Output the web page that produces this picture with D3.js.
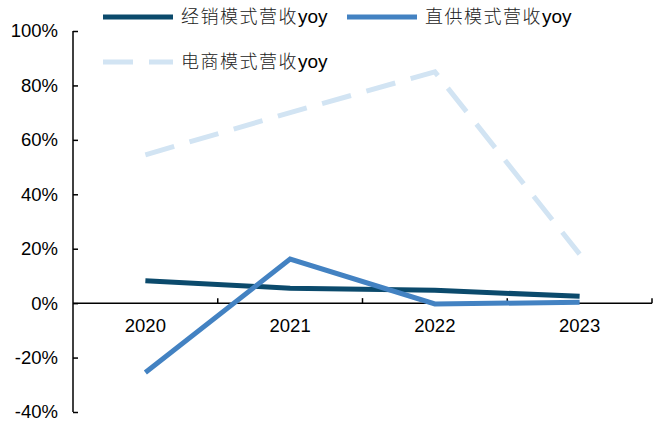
<!DOCTYPE html>
<html>
  <head>
    <meta charset="utf-8" />
    <title>营收yoy</title>
    <style>
      body { margin: 0; background: #fff; }
      text { font-family: Arial, "Liberation Sans", sans-serif; }
    </style>
  </head>
  <body>
  <div id="container"></div>
  <script src="https://cdn.jsdelivr.net/npm/d3@7/dist/d3.min.js"></script>
  <script type="text/javascript">

    var years = ['2020', '2021', '2022', '2023'];
    var yTicks = [-40, -20, 0, 20, 40, 60, 80, 100];
    var seriesNames = ['经销模式营收', '直供模式营收', '电商模式营收'];
    // yoy values in %
    var distribution = [8.2, 5.5, 4.7, 2.5];
    var directSupply = [-25.5, 16.2, -0.3, 0.3];
    var ecommerce = [54.5, 70, 85, 18];

    var width = 654;
    var height = 421;
    var colors = ['#0b4a6c', '#4382c2', '#d2e4f3'];

    var svg = d3.select('#container').append('svg')
      .attr('width', width).attr('height', height);

    var x = d3.scaleBand().domain(years).range([73, 652]);
    var y = d3.scaleLinear().domain([-40, 100]).range([412, 31]);

    // y axis, ticks pointing inward
    var yAxis = svg.append('g')
      .attr('transform', 'translate(' + x.range()[0] + ',0)')
      .call(d3.axisRight(y).tickValues(yTicks).tickSize(5).tickFormat(function(d){ return d + '%'; }));
    yAxis.select('.domain').attr('d', 'M0,' + y(-40) + 'V' + y(100)).attr('stroke', '#000').attr('stroke-width', 1.5);
    yAxis.selectAll('.tick line').attr('stroke', '#000').attr('stroke-width', 1.5);
    yAxis.selectAll('.tick text')
      .attr('x', -15).attr('text-anchor', 'end')
      .attr('font-size', 18.5).attr('fill', '#000');

    // x axis at 0%, ticks at band edges pointing up
    var xg = svg.append('g').attr('transform', 'translate(0,' + y(0) + ')');
    xg.append('line')
      .attr('x1', x.range()[0]).attr('x2', x.range()[1])
      .attr('stroke', '#000').attr('stroke-width', 1.5);
    xg.selectAll('.edge').data(years).enter().append('line')
      .attr('x1', function(d){ return x(d) + x.bandwidth(); })
      .attr('x2', function(d){ return x(d) + x.bandwidth(); })
      .attr('y1', 0).attr('y2', -5)
      .attr('stroke', '#000').attr('stroke-width', 1.5);
    xg.selectAll('.lab').data(years).enter().append('text')
      .attr('x', function(d){ return x(d) + x.bandwidth() / 2; })
      .attr('y', 29)
      .attr('text-anchor', 'middle')
      .attr('font-size', 18.5)
      .text(function(d){ return d; });

    var line = d3.line()
      .x(function(d, i){ return x(years[i]) + x.bandwidth() / 2; })
      .y(function(d){ return y(d); });

    var dashes = [null, null, '30,16'];
    [ecommerce, distribution, directSupply].forEach(function(s){
      var idx = s === distribution ? 0 : s === directSupply ? 1 : 2;
      svg.append('path')
        .datum(s)
        .attr('d', line)
        .attr('fill', 'none')
        .attr('stroke', colors[idx])
        .attr('stroke-width', 5)
        .attr('stroke-dasharray', dashes[idx]);
    });

    // legend
    var legendPos = [[103, 17], [347, 17], [103, 62]];
    seriesNames.forEach(function(name, i){
      var g = svg.append('g').attr('transform', 'translate(' + legendPos[i][0] + ',' + legendPos[i][1] + ')');
      g.append('line')
        .attr('x1', 0).attr('x2', 70)
        .attr('stroke', colors[i]).attr('stroke-width', 5)
        .attr('stroke-dasharray', dashes[i]);
      var t = g.append('text')
        .attr('x', 78).attr('y', 6)
        .attr('font-size', 18)
        .attr('fill', '#222');
      t.append('tspan')
        .style('font-family', '"Noto Sans CJK SC", sans-serif')
        .style('font-weight', 300)
        .attr('letter-spacing', 1.5)
        .text(name);
      t.append('tspan')
        .attr('font-size', 19)
        .attr('fill', '#000')
        .text('yoy');
    });

  </script>
  </body>
</html>
